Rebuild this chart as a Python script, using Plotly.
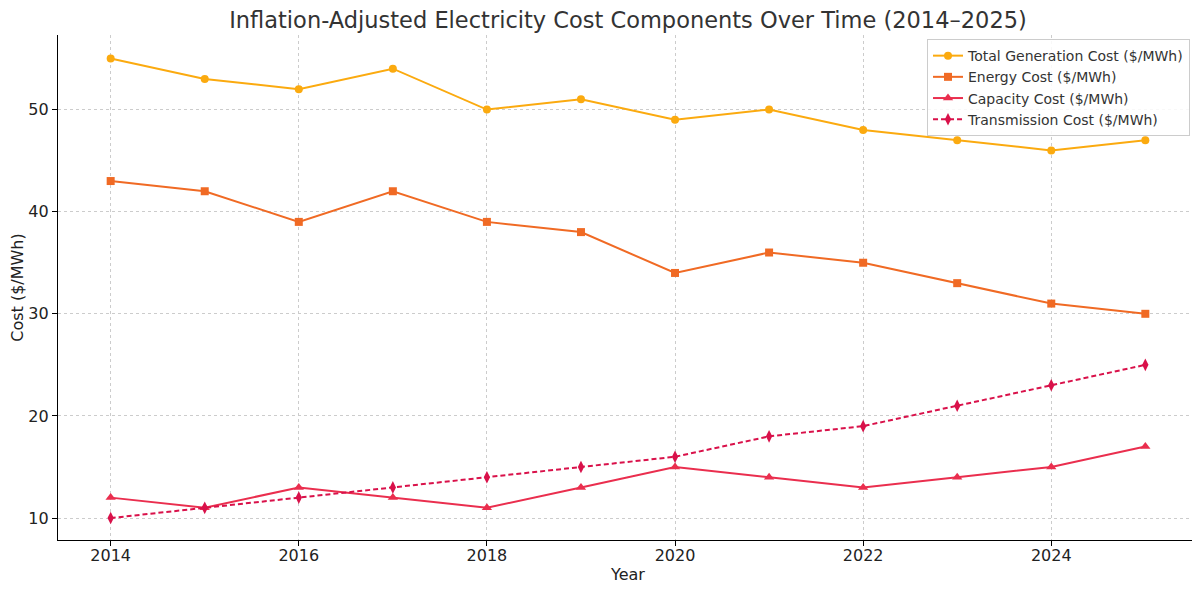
import plotly.graph_objects as go

years = list(range(2014, 2026))
total_gen = [55, 53, 52, 54, 50, 51, 49, 50, 48, 47, 46, 47]
energy = [43, 42, 39, 42, 39, 38, 34, 36, 35, 33, 31, 30]
capacity = [12, 11, 13, 12, 11, 13, 15, 14, 13, 14, 15, 17]
transmission = [10, 11, 12, 13, 14, 15, 16, 18, 19, 21, 23, 25]

series = [
    ("Total Generation Cost ($/MWh)", total_gen, "#FBAA0F", "circle", "solid", 8),
    ("Energy Cost ($/MWh)", energy, "#F06A24", "square", "solid", 8),
    ("Capacity Cost ($/MWh)", capacity, "#EA2E4E", "triangle-up", "solid", 9),
    ("Transmission Cost ($/MWh)", transmission, "#D9114A", "diamond-tall", "5px,3px", 9),
]

fig = go.Figure()
for name, vals, color, sym, dash, sz in series:
    fig.add_trace(go.Scatter(
        x=years, y=vals, name=name, mode="lines+markers",
        line=dict(color=color, width=2, dash=dash),
        marker=dict(symbol=sym, size=sz, color=color),
    ))

fig.update_layout(
    width=1192, height=587,
    margin=dict(l=50, r=2, t=27, b=55),
    paper_bgcolor="white", plot_bgcolor="white",
    font=dict(family="DejaVu Sans", size=15, color="#222"),
    title=dict(text="Inflation-Adjusted Electricity Cost Components Over Time (2014–2025)",
               x=0.5, xref="paper", xanchor="center", y=0.98, yanchor="middle",
               font=dict(size=22.5, color="#333")),
    legend=dict(x=0.993, y=0.992, xanchor="right", yanchor="top",
                bordercolor="#cccccc", borderwidth=1, bgcolor="rgba(255,255,255,0.85)",
                font=dict(size=14, color="#333"), tracegroupgap=0),
    showlegend=True,
)
fig.update_xaxes(
    range=[2013.44, 2025.56], tickmode="array", tickvals=[2014, 2016, 2018, 2020, 2022, 2024],
    showline=True, linecolor="black", linewidth=1.2, ticks="outside", ticklen=5,
    tickcolor="black", showgrid=True, gridcolor="#cccccc", griddash="3px,3px", gridwidth=1,
    zeroline=False, title=dict(text="Year", font=dict(size=16), standoff=4),
    tickfont=dict(size=16), automargin=False, ticklabelstandoff=-4,
)
fig.update_yaxes(
    range=[7.85, 57.3], tickvals=[10, 20, 30, 40, 50],
    showline=True, linecolor="black", linewidth=1.2, ticks="outside", ticklen=5,
    tickcolor="black", showgrid=True, gridcolor="#cccccc", griddash="3px,3px", gridwidth=1,
    zeroline=False, title=dict(text="Cost ($/MWh)", font=dict(size=16), standoff=6),
    tickfont=dict(size=16), automargin=False,
)

fig.write_html("out.html")
